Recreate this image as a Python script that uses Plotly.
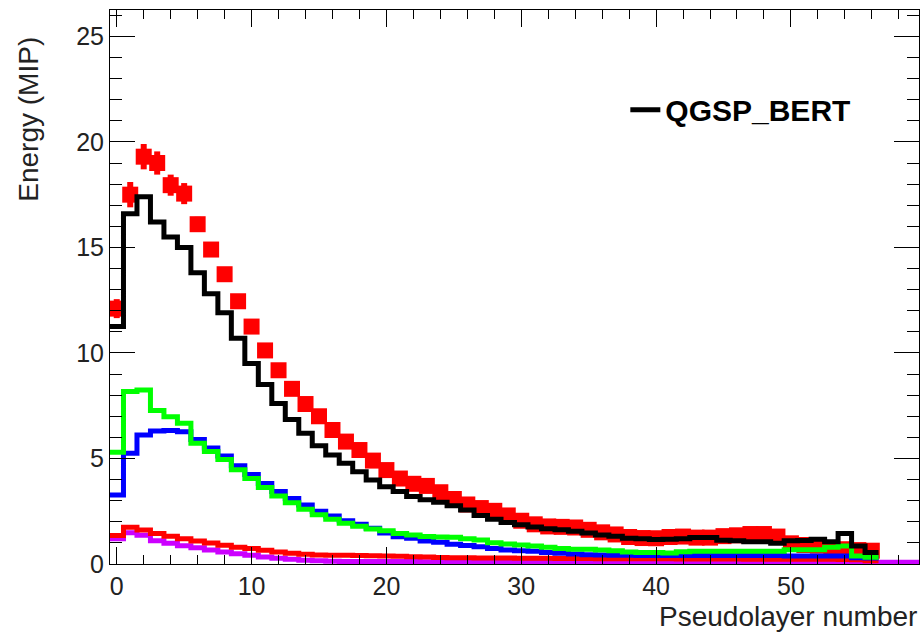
import numpy as np
import plotly.graph_objects as go

# ---- data (bin contents per pseudolayer) ----
data_red = [12.1, 17.5, 19.3, 19.0, 17.95, 17.55, 16.1, 14.9, 13.73, 12.45,
            11.25, 10.12, 9.18, 8.3, 7.58, 7.0, 6.35, 5.8, 5.4, 4.9,
            4.45, 4.05, 3.8, 3.7, 3.4, 3.08, 2.82, 2.65, 2.52, 2.3,
            2.05, 1.88, 1.78, 1.76, 1.73, 1.62, 1.5, 1.4, 1.28, 1.23,
            1.22, 1.28, 1.3, 1.25, 1.25, 1.32, 1.36, 1.42, 1.42, 1.3,
            0.98, 0.9, 0.87, 0.75, 0.7, 0.66, 0.63]
data_err = [0.45, 0.6, 0.6, 0.55, 0.5, 0.5, 0.35] + [0.3] * 50

qgsp_bert = [11.25, 16.6, 17.4, 16.2, 15.5, 15.0, 13.8, 12.8, 11.9, 10.7,
             9.5, 8.5, 7.6, 6.85, 6.2, 5.6, 5.17, 4.77, 4.37, 3.98,
             3.66, 3.43, 3.2, 3.05, 2.92, 2.76, 2.56, 2.3, 2.12, 1.97,
             1.86, 1.75, 1.67, 1.62, 1.55, 1.47, 1.38, 1.31, 1.22, 1.2,
             1.16, 1.17, 1.2, 1.25, 1.26, 1.12, 1.1, 1.06, 1.05, 0.98,
             1.1, 1.11, 1.17, 1.06, 1.45, 0.85, 0.55]

green_h = [5.29, 8.17, 8.25, 7.27, 6.98, 6.67, 5.72, 5.33, 4.95, 4.47,
           4.05, 3.63, 3.22, 2.9, 2.6, 2.33, 2.12, 1.93, 1.79, 1.66,
           1.57, 1.44, 1.37, 1.3, 1.28, 1.27, 1.2, 1.14, 1.01, 0.95,
           0.9, 0.85, 0.79, 0.74, 0.7, 0.7, 0.66, 0.63, 0.57, 0.55,
           0.55, 0.52, 0.58, 0.6, 0.6, 0.6, 0.6, 0.6, 0.6, 0.6,
           0.68, 0.68, 0.68, 0.79, 0.85, 0.38, 0.32]

blue_h = [3.27, 5.25, 6.11, 6.3, 6.32, 6.27, 5.9, 5.5, 5.12, 4.65,
          4.24, 3.82, 3.43, 3.1, 2.8, 2.5, 2.28, 2.05, 1.88, 1.69,
          1.47, 1.29, 1.22, 1.09, 1.03, 0.94, 0.88, 0.82, 0.74, 0.66,
          0.63, 0.6, 0.55, 0.51, 0.47, 0.44, 0.43, 0.41, 0.41, 0.4,
          0.4, 0.4, 0.4, 0.4, 0.4, 0.4, 0.4, 0.4, 0.4, 0.4,
          0.38, 0.38, 0.38, 0.38, 0.38, 0.3, 0.28]

red_low = [1.35, 1.74, 1.61, 1.45, 1.31, 1.2, 1.09, 1.0, 0.89, 0.79,
           0.73, 0.65, 0.57, 0.51, 0.46, 0.43, 0.42, 0.41, 0.4, 0.39,
           0.38, 0.37, 0.34, 0.33, 0.31, 0.3, 0.3, 0.29, 0.28, 0.28,
           0.27, 0.27, 0.27, 0.26, 0.26, 0.26, 0.25, 0.25, 0.25, 0.25,
           0.25, 0.25, 0.24, 0.24, 0.24, 0.24, 0.24, 0.23, 0.23, 0.23,
           0.23, 0.22, 0.22, 0.22, 0.21, 0.2, 0.15]

magenta_h = [1.2, 1.48, 1.36, 1.1, 0.98, 0.87, 0.77, 0.66, 0.57, 0.49,
             0.41, 0.33, 0.27, 0.22, 0.18, 0.15, 0.13, 0.12, 0.12, 0.12,
             0.12, 0.12, 0.12, 0.11, 0.11, 0.11, 0.11, 0.11, 0.11, 0.11,
             0.1, 0.1, 0.1, 0.1, 0.1, 0.1, 0.1, 0.1, 0.1, 0.1,
             0.1, 0.1, 0.1, 0.1, 0.1, 0.1, 0.1, 0.1, 0.1, 0.1,
             0.09, 0.09, 0.09, 0.09, 0.09, 0.09, 0.08, 0.08, 0.08, 0.08]

x_ticks = [0, 10, 20, 30, 40, 50]
y_ticks = [0, 5, 10, 15, 20, 25]

FONT = "Liberation Sans, Arial, Helvetica, sans-serif"


def step(vals):
    n = len(vals)
    xs = list(np.arange(n) - 0.5) + [n - 0.5]
    ys = list(vals) + [vals[-1]]
    return xs, ys


fig = go.Figure()

# data points (square markers with error bars)
fig.add_trace(go.Scatter(
    x=list(range(len(data_red))), y=data_red, mode="markers",
    marker=dict(symbol="square", size=16, color="#ff0000", line=dict(width=0)),
    error_y=dict(type="data", array=data_err, color="#ff0000", thickness=6, width=0),
    showlegend=False, hoverinfo="skip"))

for vals, col in [(magenta_h, "#cc00ff"), (red_low, "#ff0000"),
                  (blue_h, "#0000ff"), (green_h, "#00ff00")]:
    xs, ys = step(vals)
    fig.add_trace(go.Scatter(x=xs, y=ys, mode="lines", line=dict(shape="hv", color=col, width=5),
                             showlegend=False, hoverinfo="skip"))

xs, ys = step(qgsp_bert)
fig.add_trace(go.Scatter(x=xs, y=ys, mode="lines", name="QGSP_BERT",
                         line=dict(shape="hv", color="#000000", width=5)))

axis_common = dict(showline=True, linecolor="black", linewidth=1, mirror="allticks",
                   ticks="inside", tickcolor="black", showgrid=False, zeroline=False,
                   tickfont=dict(family=FONT, size=25, color="#222222"))

fig.update_xaxes(range=[-0.5, 59.5], tickvals=x_ticks, ticklen=17, tickwidth=1,
                 minor=dict(dtick=2, tick0=0, ticklen=9, ticks="inside", tickcolor="black"),
                 **axis_common)
fig.update_yaxes(range=[0, 26.25], tickvals=y_ticks, ticklen=25, tickwidth=1,
                 minor=dict(dtick=1, tick0=0, ticklen=12, ticks="inside", tickcolor="black"),
                 **axis_common)

fig.update_layout(
    width=921, height=635,
    margin=dict(l=110, r=2, t=10, b=71),
    paper_bgcolor="white", plot_bgcolor="white",
    showlegend=True,
    legend=dict(x=0.637, y=0.82, xanchor="left", yanchor="middle",
                bgcolor="rgba(0,0,0,0)", borderwidth=0,
                font=dict(family=FONT, size=30, color="black", weight="bold")),
    annotations=[
        dict(text="Pseudolayer number", xref="paper", yref="paper", x=1.0, y=-0.094,
             xanchor="right", yanchor="middle", showarrow=False,
             font=dict(family=FONT, size=28, color="#222222")),
        dict(text="Energy (MIP)", xref="paper", yref="paper", x=-0.101, y=0.955,
             xanchor="center", yanchor="top", textangle=-90, showarrow=False,
             font=dict(family=FONT, size=28, color="#222222")),
    ],
)

fig.write_html("out.html")
